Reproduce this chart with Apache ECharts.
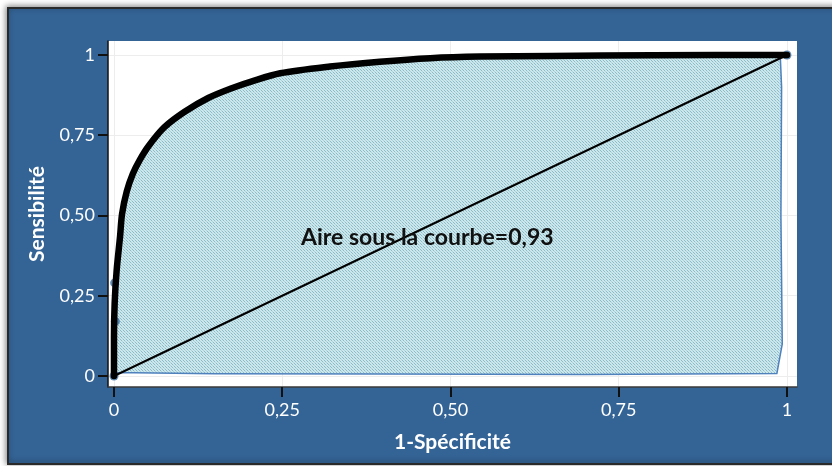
<!DOCTYPE html>
<html>
<head>
<meta charset="utf-8">
<script src="https://cdn.jsdelivr.net/npm/echarts@6/dist/echarts.min.js"></script>
<style>
html,body{margin:0;padding:0;background:#ffffff;}
#chart{width:832px;height:466px;}
</style>
</head>
<body>
<div id="chart"></div>
<script>
// ROC curve (1-Spécificité, Sensibilité)
const rocX = [0, 0, 0, 0.001, 0.004, 0.009, 0.012, 0.019, 0.028, 0.038, 0.052, 0.075, 0.105, 0.140, 0.177, 0.205, 0.247, 0.321, 0.395, 0.47, 0.544, 0.65, 0.8, 0.99, 1];
const rocY = [0, 0.02, 0.12, 0.227, 0.33, 0.434, 0.505, 0.575, 0.63, 0.672, 0.718, 0.775, 0.823, 0.866, 0.898, 0.918, 0.943, 0.964, 0.979, 0.990, 0.995, 0.997, 0.999, 1, 1];
// closing outline of the shaded area (right edge and bottom edge)
const areaCloseX = [0.992, 0.991, 0.993, 0.985, 0.7, 0.4, 0.15, 0.03, 0];
const areaCloseY = [0.9, 0.5, 0.1, 0.008, 0.005, 0.006, 0.007, 0.01, 0.01];
// diagonal reference line
const diagX = [0, 1];
const diagY = [0, 1];
// marker dots
const dotX = [0, 0.002, 0.001, 1];
const dotY = [0, 0.17, 0.29, 1];
// ticks
const tickValues = [0, 0.25, 0.5, 0.75, 1];
const tickLabels = ['0', '0,25', '0,50', '0,75', '1'];
const xTitle = '1-Spécificité';
const yTitle = 'Sensibilité';
const aucText = 'Aire sous la courbe=0,93';

const rocData = rocX.map((x, i) => [x, rocY[i]]);
const areaPoly = rocData.filter(p => p[0] <= 0.99).concat(areaCloseX.map((x, i) => [x, areaCloseY[i]]));
const diagData = diagX.map((x, i) => [x, diagY[i]]);
const dotData = dotX.map((x, i) => [x, dotY[i]]);

function fmt(v) {
  const i = tickValues.findIndex(t => Math.abs(t - v) < 1e-9);
  return i >= 0 ? tickLabels[i] : '';
}

// dotted pattern fill
const pat = document.createElement('canvas');
pat.width = 3; pat.height = 3;
const pc = pat.getContext('2d');
pc.fillStyle = '#cde8ec';
pc.fillRect(0, 0, 3, 3);
pc.fillStyle = '#8cbac6';
pc.fillRect(0, 0, 1, 1);
pc.fillRect(1, 1, 1, 1);
pc.fillStyle = '#a9d2da';
pc.fillRect(2, 2, 1, 1);

const chart = echarts.init(document.getElementById('chart'));
const font = 'Lato, "Open Sans", sans-serif';
const option = {
  backgroundColor: '#ffffff',
  animation: false,
  graphic: [
    {
      type: 'rect', z: -10, silent: true,
      shape: { x: 8, y: 8, width: 840, height: 456 },
      style: { fill: '#346496', stroke: '#2a2a2a', lineWidth: 2, shadowBlur: 6, shadowColor: 'rgba(0,0,0,0.45)', shadowOffsetX: -1, shadowOffsetY: -1 }
    },
    {
      type: 'text', z: 100,
      left: 301, top: 226,
      style: { text: aucText, fill: '#111111', font: 'bold 23px ' + font }
    }
  ],
  grid: {
    left: 108, right: 35, top: 41, bottom: 79,
    show: true, backgroundColor: '#ffffff', borderWidth: 0
  },
  xAxis: {
    type: 'value', min: -0.0089, max: 1.0149,
    name: xTitle, nameLocation: 'middle', nameGap: 45,
    nameTextStyle: { color: '#ffffff', fontSize: 21, fontWeight: 'bold', fontFamily: font },
    axisLine: { show: true, onZero: false, lineStyle: { color: '#3a3a3a', width: 1.5 } },
    axisTick: { show: true, customValues: tickValues, length: 10, lineStyle: { color: '#111111', width: 2 } },
    axisLabel: { customValues: tickValues, formatter: fmt, color: '#ffffff', fontSize: 18, fontFamily: font, margin: 14 },
    splitLine: { show: true, lineStyle: { color: '#ededed', width: 1 } }
  },
  yAxis: {
    type: 'value', min: -0.0343, max: 1.0436,
    name: yTitle, nameLocation: 'middle', nameGap: 60, nameRotate: 90,
    nameTextStyle: { color: '#ffffff', fontSize: 21, fontWeight: 'bold', fontFamily: font },
    axisLine: { show: true, onZero: false, lineStyle: { color: '#111111', width: 1.5 } },
    axisTick: { show: true, customValues: tickValues, length: 10, lineStyle: { color: '#111111', width: 2 } },
    axisLabel: { customValues: tickValues, formatter: fmt, color: '#ffffff', fontSize: 18, fontFamily: font, margin: 13 },
    splitLine: { show: true, lineStyle: { color: '#ededed', width: 1 } }
  },
  series: [
    {
      type: 'custom', z: 1, silent: true,
      data: [0],
      renderItem: function (params, api) {
        const pts = areaPoly.map(p => api.coord(p));
        return {
          type: 'polygon',
          shape: { points: pts },
          style: { fill: { image: pat, repeat: 'repeat' }, stroke: '#4f81bd', lineWidth: 1.5 }
        };
      }
    },
    {
      type: 'scatter', z: 2, silent: true,
      data: dotData, symbolSize: 9,
      itemStyle: { color: '#3a6d9c' }
    },
    {
      type: 'line', z: 3, silent: true,
      data: diagData, showSymbol: false,
      lineStyle: { color: '#000000', width: 2 }
    },
    {
      type: 'line', z: 4, silent: true,
      data: rocData, showSymbol: false, smooth: 0.3,
      lineStyle: { color: '#000000', width: 6.5, join: 'round', cap: 'round' }
    }
  ]
};
chart.setOption(option);
</script>
</body>
</html>
